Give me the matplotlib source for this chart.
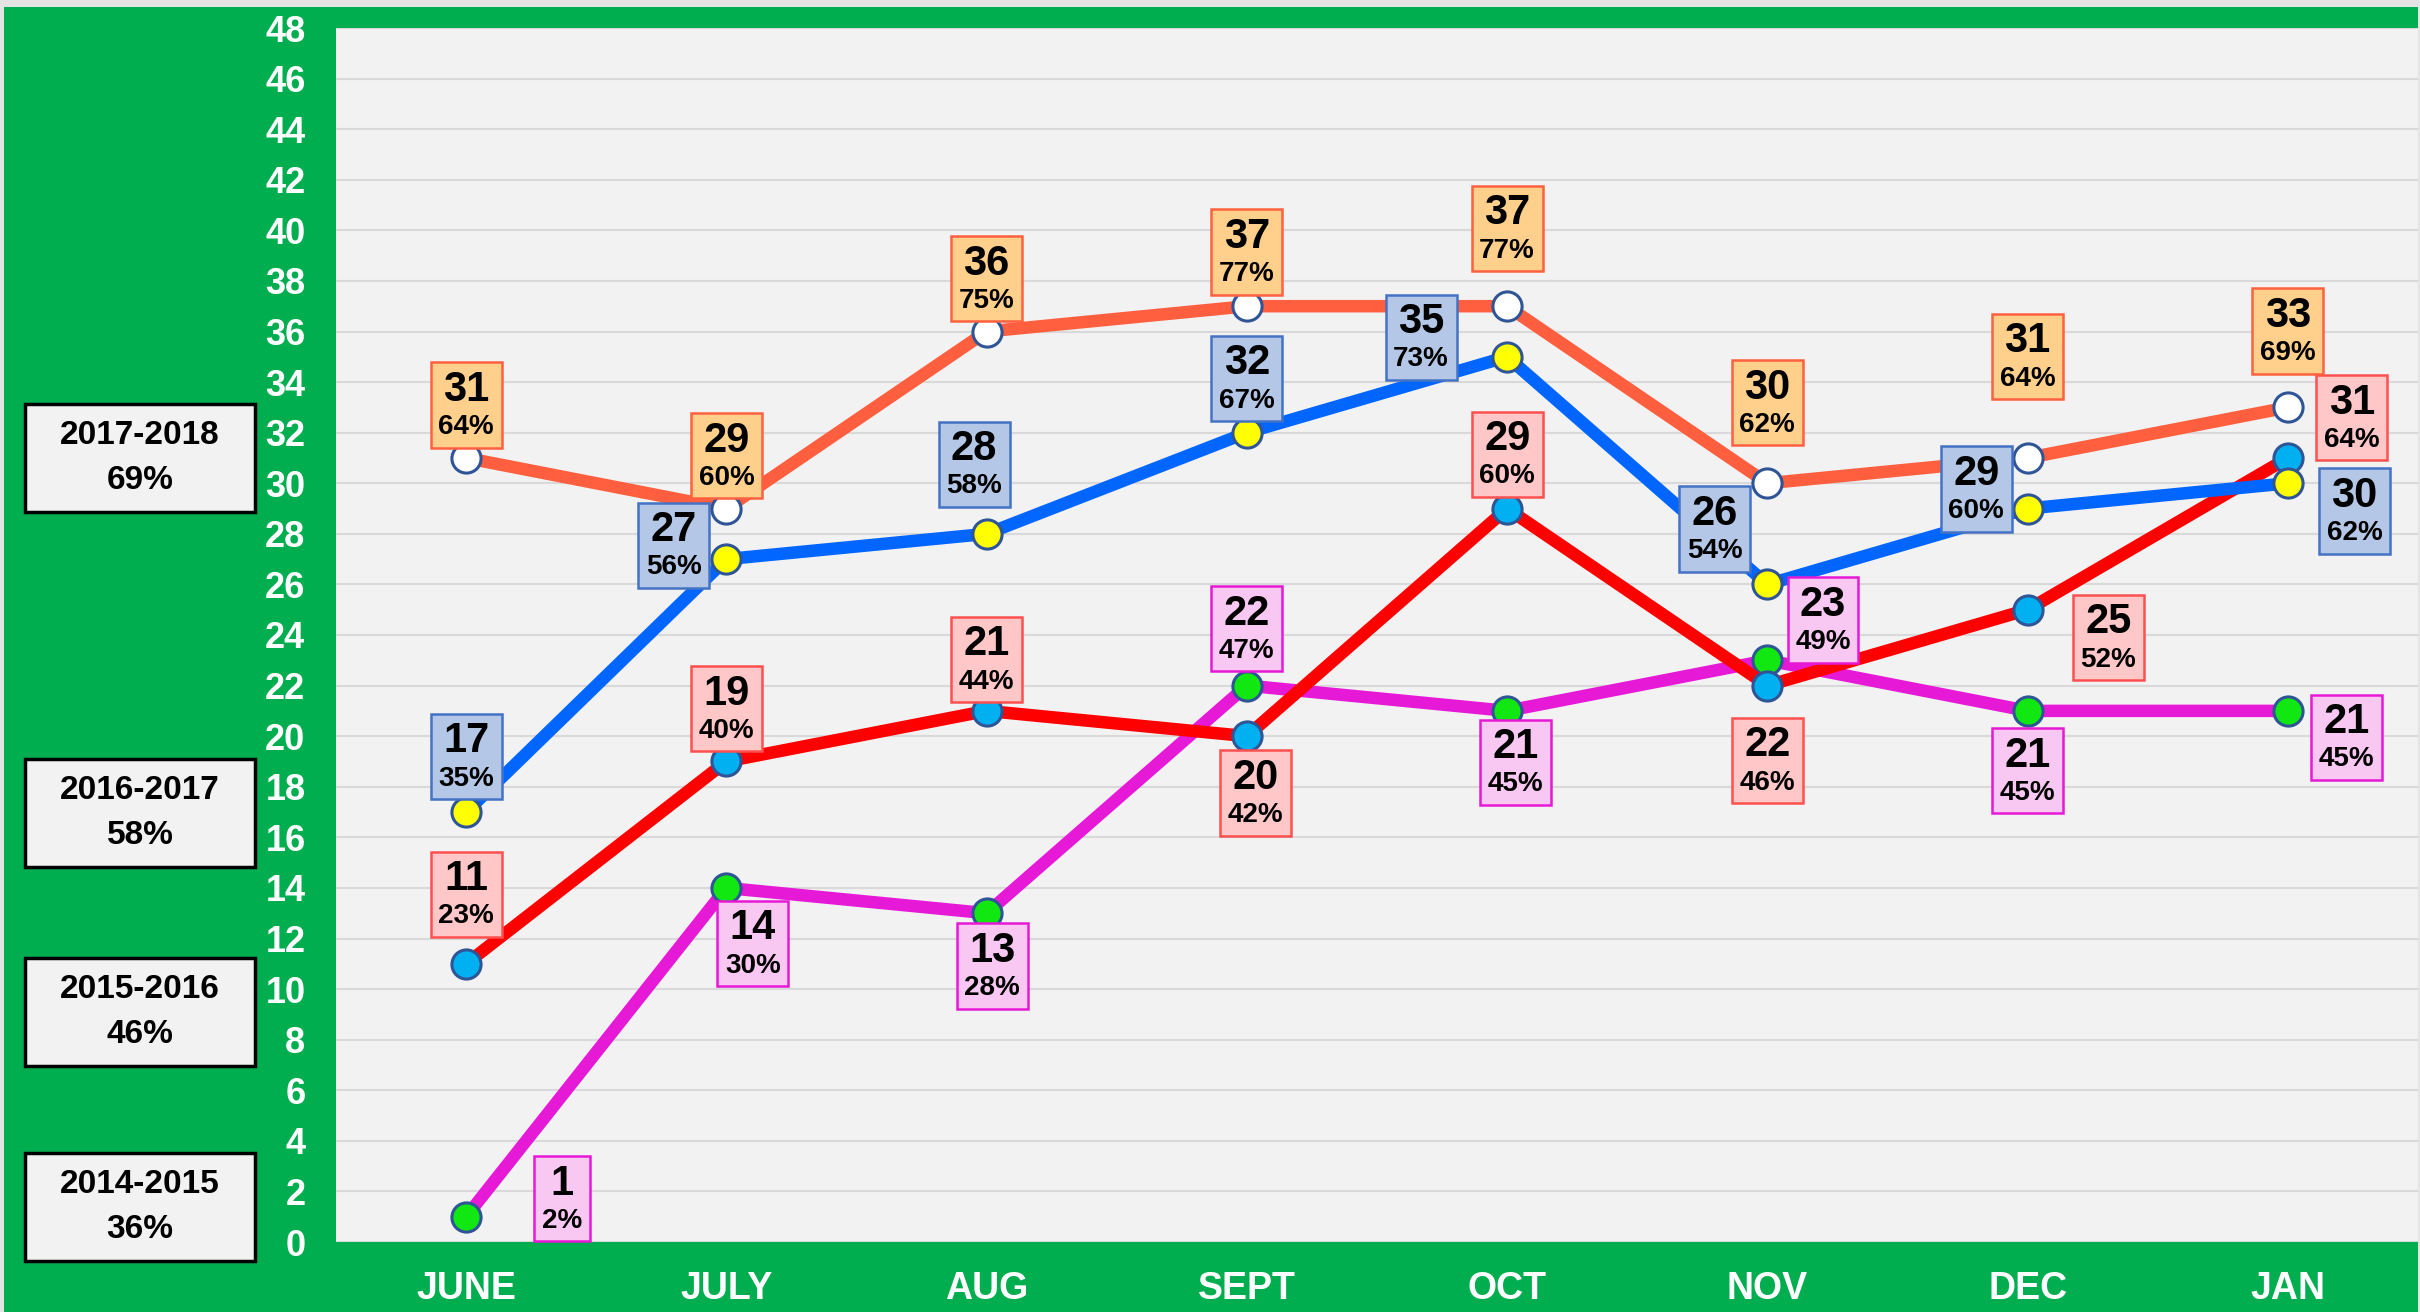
import matplotlib.pyplot as plt
from matplotlib.patches import Rectangle
from matplotlib.offsetbox import TextArea, VPacker, AnnotationBbox

months = ["JUNE", "JULY", "AUG", "SEPT", "OCT", "NOV", "DEC", "JAN"]

# counts per month and share (%) for each season
s1718 = [31, 29, 36, 37, 37, 30, 31, 33]
p1718 = [64, 60, 75, 77, 77, 62, 64, 69]
s1617 = [17, 27, 28, 32, 35, 26, 29, 30]
p1617 = [35, 56, 58, 67, 73, 54, 60, 62]
s1516 = [11, 19, 21, 20, 29, 22, 25, 31]
p1516 = [23, 40, 44, 42, 60, 46, 52, 64]
s1415 = [1, 14, 13, 22, 21, 23, 21, 21]
p1415 = [2, 30, 28, 47, 45, 49, 45, 45]

seasons = ["2017-2018", "2016-2017", "2015-2016", "2014-2015"]
season_pct = [69, 58, 46, 36]

# label box offsets (points) from each point
off1718 = [(0, 38), (0, 38), (0, 38), (0, 39), (0, 56), (0, 58), (0, 73), (0, 55)]
off1617 = [(0, 40), (-38, 10), (-9, 50), (0, 39), (-62, 14), (-38, 40), (-37, 14), (48, -20)]
off1516 = [(0, 50), (0, 38), (0, 37), (6, -41), (0, 39), (0, -54), (58, -20), (46, 29)]
off1415 = [(69, 13), (19, -40), (4, -38), (0, 41), (6, -37), (40, 29), (0, -43), (42, -19)]

GREEN = "#00AE4F"
W, H = 2420, 1312

fig = plt.figure(figsize=(W / 100, H / 100), dpi=100, facecolor=GREEN)
ax = fig.add_axes([336 / W, 70 / H, (2418 - 336) / W, (1242 - 28) / H])
ax.set_facecolor("#F2F2F2")

x = list(range(len(months)))

# (values, pcts, offsets, line colour, marker colour, box face, box edge)
series = [
    (s1415, p1415, off1415, "#E619D6", "#11E811", "#F9C8F2", "#E619D6"),
    (s1516, p1516, off1516, "#FF0000", "#00B0F0", "#FFC7C7", "#FF5050"),
    (s1617, p1617, off1617, "#0066FF", "#FFFF00", "#B4C7E7", "#4472C4"),
    (s1718, p1718, off1718, "#FF5F3F", "#FFFFFF", "#FFD08C", "#FF6040"),
]

for i, (vals, pcts, offs, lc, mc, fc, ec) in enumerate(series):
    ax.plot(x, vals, color=lc, lw=9, marker="o", markersize=21,
            markerfacecolor=mc, markeredgecolor="#2F5597", markeredgewidth=2.2,
            zorder=3 + i)

for vals, pcts, offs, lc, mc, fc, ec in series:
    for xi, v, p, (dx, dy) in zip(x, vals, pcts, offs):
        num = TextArea(str(v), textprops=dict(fontsize=30, fontweight="bold",
                                              color="black", family="Liberation Sans"))
        pct = TextArea(f"{p}%", textprops=dict(fontsize=20, fontweight="bold",
                                               color="black", family="Liberation Sans"))
        pack = VPacker(children=[num, pct], align="center", pad=5.5, sep=3)
        ab = AnnotationBbox(pack, (xi, v), xybox=(dx, dy), xycoords="data",
                            boxcoords="offset points", frameon=True, pad=0,
                            bboxprops=dict(facecolor=fc, edgecolor=ec, lw=1.8),
                            zorder=10)
        ax.add_artist(ab)

ax.set_xlim(-0.5, 7.5)
ax.set_ylim(0, 48)
ax.set_yticks(range(0, 49, 2))
ax.set_xticks(x)
ax.set_xticklabels(months)
ax.tick_params(axis="y", length=0, pad=22, labelsize=26, labelcolor="white")
ax.tick_params(axis="x", length=0, pad=21, labelsize=27, labelcolor="white")
for lab in ax.get_xticklabels() + ax.get_yticklabels():
    lab.set_fontweight("bold")
    lab.set_family("Liberation Sans")
ax.grid(axis="y", color="#D9D9D9", lw=1.5, zorder=0)
ax.set_axisbelow(True)
for sp in ax.spines.values():
    sp.set_visible(False)

# season boxes on the left
box_y = [(404, 512), (759, 867), (958, 1066), (1153, 1261)]
for name, pc, (y0, y1) in zip(seasons, season_pct, box_y):
    rect = Rectangle((25 / W, 1 - y1 / H), 230 / W, (y1 - y0) / H,
                     transform=fig.transFigure, facecolor="#F2F2F2",
                     edgecolor="black", lw=2.5)
    fig.patches.append(rect)
    fig.text(140 / W, 1 - (y0 + y1) / 2 / H, f"{name}\n{pc}%", ha="center", va="center",
             fontweight="bold", linespacing=1.55, family="Liberation Sans", fontsize=24)

# light frame at top and sides
fig.patches.append(Rectangle((0, 1 - 7 / H), 1, 7 / H, transform=fig.transFigure,
                             facecolor="#E4E4E4", edgecolor="none"))
fig.patches.append(Rectangle((0, 0), 4 / W, 1, transform=fig.transFigure,
                             facecolor="#E4E4E4", edgecolor="none"))
fig.patches.append(Rectangle((1 - 2 / W, 0), 2 / W, 1, transform=fig.transFigure,
                             facecolor="#E4E4E4", edgecolor="none"))

fig.savefig("out.png", dpi=100, facecolor=GREEN)
